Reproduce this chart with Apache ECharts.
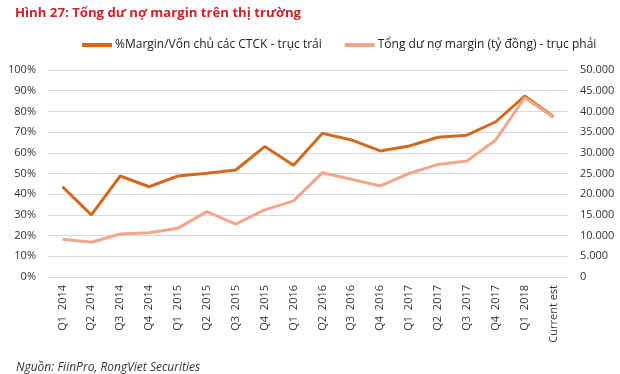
<!DOCTYPE html>
<html><head><meta charset="utf-8">
<script src="https://cdn.jsdelivr.net/npm/echarts@6/dist/echarts.min.js"></script>
<style>html,body{margin:0;padding:0;background:#fff}#c{width:620px;height:374px}</style>
</head><body><div id="c"></div>
<script>
const categories = ['Q1  2014','Q2  2014','Q3  2014','Q4  2014','Q1  2015','Q2  2015','Q3  2015','Q4  2015','Q1  2016','Q2  2016','Q3  2016','Q4  2016','Q1  2017','Q2  2017','Q3  2017','Q4  2017','Q1  2018','Current est'];
const marginRatio = [43.6,30.0,48.8,43.6,48.8,50.1,51.7,63.0,54.0,69.4,66.2,60.9,63.3,67.5,68.5,75.0,87.4,77.4];
const marginDebt = [9100,8400,10400,10700,11800,15800,12800,16200,18400,25200,23600,22000,25000,27200,28000,33100,43300,38600];
const seriesNames = ['%Margin/Vốn chủ các CTCK - trục trái','Tổng dư nợ margin (tỷ đồng) - trục phải'];
const titleText = 'Hình 27: Tổng dư nợ margin trên thị trường';
const sourceText = 'Nguồn: FiinPro, RongViet Securities';

const font = "'Open Sans', 'Noto Sans', sans-serif";
const chart = echarts.init(document.getElementById('c'));
chart.setOption({
  animation: false,
  textStyle: {fontFamily: font},
  title: [
    {text: titleText, left: 10, top: 2, textStyle: {fontFamily: font, fontSize: 13.2, fontWeight: 'bold', color: '#D0202A'}},
    {text: sourceText, left: 11, top: 357, textStyle: {fontFamily: font, fontSize: 12, fontWeight: 'normal', fontStyle: 'italic', color: '#333'}}
  ],
  legend: {
    top: 34, left: 77, itemWidth: 30, itemHeight: 4, itemGap: 23,
    icon: 'rect',
    textStyle: {fontFamily: font, fontSize: 12, color: '#222', padding: [0,0,0,-2]},
    data: seriesNames
  },
  grid: {left: 48, right: 52, top: 70, bottom: 97},
  xAxis: {
    type: 'category', data: categories, boundaryGap: true,
    axisLine: {show: false}, axisTick: {show: false},
    axisLabel: {rotate: 90, fontSize: 11, color: '#333', margin: 8, interval: 0}
  },
  yAxis: [
    {type: 'value', min: 0, max: 100, interval: 10,
     axisLabel: {formatter: '{value}%', fontSize: 11, color: '#333', margin: 12},
     axisLine: {show: false}, axisTick: {show: false},
     splitLine: {lineStyle: {color: '#d9d9d9', width: 1.2}}},
    {type: 'value', min: 0, max: 50000, interval: 5000,
     axisLabel: {formatter: v => v === 0 ? '0' : v.toLocaleString('de-DE'), fontSize: 11, color: '#333', margin: 12, align: 'left'},
     axisLine: {show: false}, axisTick: {show: false}, splitLine: {show: false}}
  ],
  series: [
    {name: seriesNames[0], type: 'line', yAxisIndex: 0, data: marginRatio, symbol: 'none',
     itemStyle: {color: '#D2691F'}, lineStyle: {color: '#D2691F', width: 3}},
    {name: seriesNames[1], type: 'line', yAxisIndex: 1, data: marginDebt, symbol: 'none',
     itemStyle: {color: '#F4A68A'}, lineStyle: {color: '#F4A68A', width: 3}}
  ]
});
</script></body></html>
